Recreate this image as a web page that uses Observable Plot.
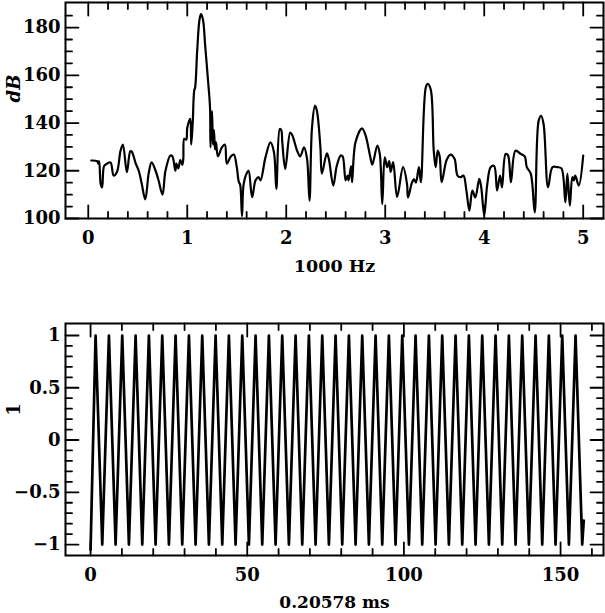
<!DOCTYPE html>
<html>
<head>
<meta charset="utf-8">
<script src="https://cdn.jsdelivr.net/npm/d3@7"></script>
<script src="https://cdn.jsdelivr.net/npm/@observablehq/plot@0.6"></script>
<style>
  html, body { margin: 0; padding: 0; background: #fff; }
  #c { width: 605px; }
  #c svg { display: block; }
</style>
</head>
<body>
<div id="c"></div>
<script>
// ---- Spectrum (top panel): frequency in 1000 Hz, level in dB ----
const specFreq = [0.03,0.09,0.10,0.11,0.125,0.14,0.16,0.19,0.225,0.256,0.29,0.326,0.35,0.39,0.425,0.44,0.48,0.51,0.54,0.576,0.61,0.64,0.68,0.71,0.75,0.78,0.83,0.85,0.88,0.89,0.91,0.93,0.95,0.96,0.97,0.99,1.00,1.03,1.04,1.055,1.07,1.08,1.10,1.125,1.14,1.16,1.18,1.21,1.23,1.235,1.25,1.26,1.27,1.28,1.29,1.31,1.35,1.38,1.40,1.44,1.47,1.50,1.52,1.535,1.553,1.57,1.606,1.62,1.655,1.69,1.72,1.74,1.79,1.84,1.875,1.90,1.935,1.95,1.96,1.99,2.04,2.06,2.11,2.14,2.18,2.21,2.235,2.26,2.29,2.31,2.345,2.36,2.41,2.43,2.475,2.51,2.55,2.57,2.60,2.62,2.63,2.655,2.665,2.70,2.765,2.80,2.85,2.87,2.92,2.945,2.97,2.995,3.02,3.04,3.055,3.08,3.12,3.18,3.22,3.23,3.27,3.29,3.31,3.34,3.36,3.41,3.43,3.46,3.49,3.51,3.53,3.55,3.57,3.62,3.66,3.70,3.73,3.76,3.79,3.82,3.85,3.88,3.91,3.95,3.97,4.00,4.03,4.065,4.10,4.13,4.16,4.18,4.216,4.24,4.27,4.316,4.37,4.41,4.43,4.47,4.51,4.55,4.575,4.60,4.645,4.69,4.74,4.78,4.82,4.84,4.865,4.89,4.905,4.92,4.955,5.0];
const specDb = [124.3,124,123,124,114.6,113,122,123,123.5,118,119.5,128.4,131,119.4,128.2,128,123,120,114.6,108,118.8,123.5,120,116,110,120,126.4,126,120,123,121,124.5,122.5,125,133.4,133,138,141.8,131,140,153.5,155,170,183.7,185.6,183,173,157.7,146.5,129.8,145,131,137,129,132,126,129.8,131,123,126,126.8,121.6,115.5,114,101,114.5,119.4,120,108.9,116,117.3,116,125.6,131.9,128,112.4,137.5,137,132,120.8,136,135,128.4,126,129.8,125,107.5,138,147.3,145,129.8,118.8,127.3,125,113.8,122,126.4,126,116,118,116,122,115.2,132,137.8,135,125.6,122.6,130.5,127,106,125.6,121.5,124,119.5,123.6,109,121.5,114.5,108.8,115,116.5,115,121.5,115.2,155,156.4,154,128.4,121.5,128.4,126,115.2,124.5,126.8,125,118,117.3,118,111.7,103.3,111.7,108.8,116.6,113,101.3,114,121.5,122,111.7,118,113,127,126.5,115.2,128.4,127,126,121.5,118.8,102.6,141,143,139.5,113.1,121.5,121.5,121,106.8,118.8,105.4,117.3,116,118,113.8,126.4];

// ---- Waveform (bottom panel): time in units of 0.20578 ms, amplitude ----
const waveT = [0,1.60,3.73,5.86,7.99,10.11,12.24,14.37,16.50,18.62,20.75,22.88,25.01,27.13,29.26,31.39,33.52,35.64,37.77,39.90,42.03,44.15,46.28,48.41,50.54,52.66,54.79,56.92,59.05,61.17,63.30,65.43,67.56,69.68,71.81,73.94,76.07,78.19,80.32,82.45,84.58,86.70,88.83,90.96,93.09,95.21,97.34,99.47,101.60,103.72,105.85,107.98,110.11,112.23,114.36,116.49,118.62,120.74,122.87,125.00,127.13,129.25,131.38,133.51,135.64,137.76,139.89,142.02,144.15,146.27,148.40,150.53,152.66,154.78,156.91,157.40];
const waveV = [-1.05,1,-1,1,-1,1,-1,1,-1,1,-1,1,-1,1,-1,1,-1,1,-1,1,-1,1,-1,1,-1,1,-1,1,-1,1,-1,1,-1,1,-1,1,-1,1,-1,1,-1,1,-1,1,-1,1,-1,1,-1,1,-1,1,-1,1,-1,1,-1,1,-1,1,-1,1,-1,1,-1,1,-1,1,-1,1,-1,1,-1,1,-1,-0.77];

// ---- Tick values ----
const topXMajor = [0,1,2,3,4,5];
const topXMinor = [0.2,0.4,0.6,0.8,1.2,1.4,1.6,1.8,2.2,2.4,2.6,2.8,3.2,3.4,3.6,3.8,4.2,4.4,4.6,4.8];
const topYMajor = [100,120,140,160,180];
const topYMinor = [105,110,115,125,130,135,145,150,155,165,170,175,185];
const botXMajor = [0,50,100,150];
const botXMinor = [10,20,30,40,60,70,80,90,110,120,130,140,160];
const botYMajor = [-1,-0.5,0,0.5,1];
const botYMinor = [-0.9,-0.8,-0.7,-0.6,-0.4,-0.3,-0.2,-0.1,0.1,0.2,0.3,0.4,0.6,0.7,0.8,0.9];

const topTitleX = "1000 Hz";
const topTitleY = "dB";
const botTitleX = "0.20578 ms";
const botTitleY = "1";

const spec = specFreq.map((f, i) => ({f, db: specDb[i]}));
const wave = waveT.map((t, i) => ({t, v: waveV[i]}));

const FONT = "DejaVu Serif";
const MAJ = 13, MIN = 6.5, TW = 1.8;
const fmt = d => (d < 0 ? "\u2212" : "") + String(Math.abs(d));

// inward ticks on all four sides, drawn as short line segments built from the tick arrays
function tickMarks(xMaj, xMin, yMaj, yMin, xd, yd, fw, fh) {
  const ky = (yd[1] - yd[0]) / fh, kx = (xd[1] - xd[0]) / fw;
  const pts = [];
  let id = 0;
  const addX = (vals, len) => vals.forEach(v => {
    pts.push({x: v, y: yd[0], id}, {x: v, y: yd[0] + len * ky, id}); id++;
    pts.push({x: v, y: yd[1], id}, {x: v, y: yd[1] - len * ky, id}); id++;
  });
  const addY = (vals, len) => vals.forEach(v => {
    pts.push({x: xd[0], y: v, id}, {x: xd[0] + len * kx, y: v, id}); id++;
    pts.push({x: xd[1], y: v, id}, {x: xd[1] - len * kx, y: v, id}); id++;
  });
  addX(xMaj, MAJ); addX(xMin, MIN); addY(yMaj, MAJ); addY(yMin, MIN);
  return [Plot.line(pts, {x: "x", y: "y", z: "id", stroke: "#000", strokeWidth: TW})];
}

const W = 605, ML = 65, MR = 2;
const H1 = 300, MT1 = 2, MB1 = 82;
const H2 = 313, MT2 = 23, MB2 = 58;
const topXD = [-0.23, 5.205], topYD = [100, 190.5];
const botXD = [-8.0, 163.7], botYD = [-1.105, 1.115];

const topChart = Plot.plot({
  width: W, height: H1,
  marginTop: MT1, marginBottom: MB1, marginLeft: ML, marginRight: MR,
  style: {fontFamily: FONT, fontSize: "18px", fontWeight: "bold", background: "#fff", overflow: "visible"},
  x: {domain: topXD, ticks: topXMajor, tickSize: 0, tickPadding: 13, tickFormat: fmt, label: null},
  y: {domain: topYD, ticks: topYMajor, tickSize: 0, tickPadding: 5, tickFormat: fmt, label: null},
  marks: [
    Plot.line(spec, {x: "f", y: "db", stroke: "#000", strokeWidth: 2.2, curve: "catmull-rom"}),
    ...tickMarks(topXMajor, topXMinor, topYMajor, topYMinor, topXD, topYD, W - ML - MR, H1 - MT1 - MB1),
    Plot.frame({stroke: "#000", strokeWidth: 2}),
    Plot.text([topTitleX], {frameAnchor: "bottom", dy: 48, textAnchor: "middle", lineAnchor: "middle", fontSize: 17.5, fontWeight: "bold", fill: "#000"}),
    Plot.text([topTitleY], {frameAnchor: "left", dx: -51, dy: -22, rotate: -90, textAnchor: "middle", lineAnchor: "middle", fontSize: 18, fontWeight: "bold", fontStyle: "italic", fill: "#000"})
  ]
});

const botChart = Plot.plot({
  width: W, height: H2,
  marginTop: MT2, marginBottom: MB2, marginLeft: ML, marginRight: MR,
  style: {fontFamily: FONT, fontSize: "18px", fontWeight: "bold", background: "#fff", overflow: "visible"},
  x: {domain: botXD, ticks: botXMajor, tickSize: 0, tickPadding: 13, tickFormat: fmt, label: null},
  y: {domain: botYD, ticks: botYMajor, tickSize: 0, tickPadding: 5, tickFormat: fmt, label: null},
  marks: [
    Plot.line(wave, {x: "t", y: "v", stroke: "#000", strokeWidth: 2.7, curve: "linear", strokeLinejoin: "round"}),
    ...tickMarks(botXMajor, botXMinor, botYMajor, botYMinor, botXD, botYD, W - ML - MR, H2 - MT2 - MB2),
    Plot.frame({stroke: "#000", strokeWidth: 2}),
    Plot.text([botTitleX], {frameAnchor: "bottom", dy: 47, textAnchor: "middle", lineAnchor: "middle", fontSize: 17, fontWeight: "bold", fill: "#000"}),
    Plot.text([botTitleY], {frameAnchor: "left", dx: -51, dy: -30, rotate: -90, textAnchor: "middle", lineAnchor: "middle", fontSize: 18, fontWeight: "bold", fill: "#000"})
  ]
});

document.getElementById("c").append(topChart, botChart);
</script>
</body>
</html>
